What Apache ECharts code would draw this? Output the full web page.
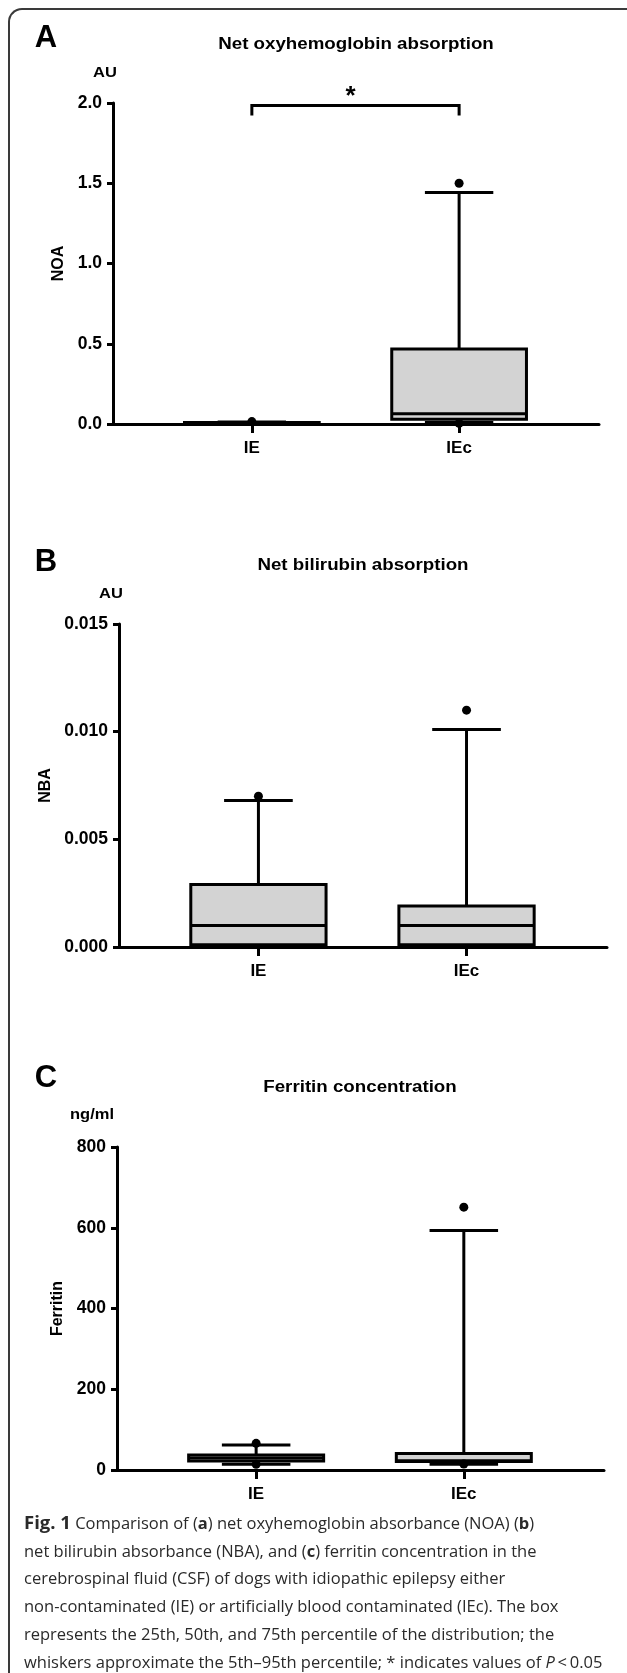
<!DOCTYPE html>
<html>
<head>
<meta charset="utf-8">
<script src="https://cdn.jsdelivr.net/npm/echarts@6/dist/echarts.min.js"></script>
<style>
  html, body { margin: 0; padding: 0; background: #fff; }
  #chart { position: absolute; left: 0; top: 0; width: 627px; height: 1673px; }
  #frame {
    position: absolute; left: 8px; top: 8px; width: 660px; height: 1700px;
    border-top: 2px solid #3a3a3a; border-left: 2px solid #3a3a3a;
    border-top-left-radius: 14px; pointer-events: none;
  }
  #caption {
    position: absolute; left: 24px; top: 1508px; white-space: nowrap;
    font-family: "Open Sans", "Noto Sans", sans-serif; font-weight: 400;
    font-size: 16.5px; line-height: 27.7px; color: #2a2a2a;
  }
  #caption b { font-weight: 700; }
  #caption b.fig { font-size: 18.5px; }
</style>
</head>
<body>
<div id="chart"></div>
<div id="frame"></div>
<div id="caption">
  <b class="fig">Fig. 1</b> Comparison of (<b>a</b>) net oxyhemoglobin absorbance (NOA) (<b>b</b>)<br>
  net bilirubin absorbance (NBA), and (<b>c</b>) ferritin concentration in the<br>
  cerebrospinal fluid (CSF) of dogs with idiopathic epilepsy either<br>
  non-contaminated (IE) or artificially blood contaminated (IEc). The box<br>
  represents the 25th, 50th, and 75th percentile of the distribution; the<br>
  whiskers approximate the 5th&ndash;95th percentile; * indicates values of <i>P</i>&thinsp;&lt;&thinsp;0.05
</div>
<script>
// groups
var categories = ['IE', 'IEc'];

// A - net oxyhemoglobin absorption (AU)
var noaLow    = [0.000, 0.010];
var noaQ1     = [0.002, 0.030];
var noaMedian = [0.006, 0.064];
var noaQ3     = [0.010, 0.468];
var noaHigh   = [0.012, 1.443];
var noaDots   = [[0, 0.015], [1, 1.500], [1, 0.005]];   // [group index, value]
var noaTicks  = [0, 0.5, 1.0, 1.5, 2.0];
var noaSig    = [[0, 1, 1.984, 1.922]];                 // bracket: from group, to group, top, foot

// B - net bilirubin absorption (AU)
var nbaLow    = [0.0000, 0.0000];
var nbaQ1     = [0.0001, 0.0001];
var nbaMedian = [0.0010, 0.0010];
var nbaQ3     = [0.0029, 0.0019];
var nbaHigh   = [0.0068, 0.0101];
var nbaDots   = [[0, 0.0070], [1, 0.0110]];
var nbaTicks  = [0, 0.005, 0.010, 0.015];

// C - ferritin concentration (ng/ml)
var ferLow    = [14, 14];
var ferQ1     = [22, 21];
var ferMedian = [30, 23];
var ferQ3     = [37, 41];
var ferHigh   = [62, 593];
var ferDots   = [[0, 66], [0, 14], [1, 651], [1, 15]];
var ferTicks  = [0, 200, 400, 600, 800];

var FONT = '"Liberation Sans", Arial, Helvetica, sans-serif';

var myChart = echarts.init(document.getElementById('chart'));

function boxRows(low, q1, med, q3, high) {
	var rows = [];
	for (var i = 0; i < categories.length; i++) {
		rows.push([i + 1, low[i], q1[i], med[i], q3[i], high[i]]);
	}
	return rows;
}

function dotRows(dots) {
	return dots.map(function (d) { return [d[0] + 1, d[1]]; });
}

// box, median, whiskers with short caps
function renderBox(params, api) {
	var x = api.value(0);
	var lo = api.coord([x, api.value(1)]);
	var q1 = api.coord([x, api.value(2)]);
	var med = api.coord([x, api.value(3)]);
	var q3 = api.coord([x, api.value(4)]);
	var hi = api.coord([x, api.value(5)]);
	var unit = api.size([1, 0])[0];
	var bw = unit * 0.65, cw = unit * 0.33;
	var cx = q1[0];
	var ls = { stroke: '#000', lineWidth: 3 };
	return {
		type: 'group',
		children: [
			{ type: 'line', shape: { x1: cx, y1: hi[1], x2: cx, y2: q3[1] }, style: ls },
			{ type: 'line', shape: { x1: cx - cw / 2, y1: hi[1], x2: cx + cw / 2, y2: hi[1] }, style: ls },
			{ type: 'line', shape: { x1: cx, y1: lo[1], x2: cx, y2: q1[1] }, style: ls },
			{ type: 'line', shape: { x1: cx - cw / 2, y1: lo[1], x2: cx + cw / 2, y2: lo[1] }, style: ls },
			{ type: 'rect', shape: { x: cx - bw / 2, y: q3[1], width: bw, height: q1[1] - q3[1] },
				style: { fill: '#d3d3d3', stroke: '#000', lineWidth: 3 } },
			{ type: 'line', shape: { x1: cx - bw / 2, y1: med[1], x2: cx + bw / 2, y2: med[1] }, style: ls }
		]
	};
}

function renderBracket(params, api) {
	var a = api.coord([api.value(0) + 1, api.value(2)]);
	var b = api.coord([api.value(1) + 1, api.value(2)]);
	var foot = api.coord([api.value(0) + 1, api.value(3)])[1];
	return {
		type: 'group',
		children: [
			{ type: 'polyline', shape: { points: [[a[0], foot], [a[0], a[1]], [b[0], b[1]], [b[0], foot]] },
				style: { stroke: '#000', lineWidth: 3, fill: null } },
			{ type: 'text', x: (a[0] + b[0]) / 2 - 5, y: a[1] - 9,
				style: { text: '*', font: 'bold 26px ' + FONT, fill: '#000', align: 'center', verticalAlign: 'middle' } }
		]
	};
}

var grids = [
	{ left: 113, top: 103, width: 486, height: 321 },
	{ left: 119, top: 624, width: 488, height: 323 },
	{ left: 117, top: 1147, width: 487, height: 323 }
];

function xAxisFor(i) {
	return {
		type: 'value', gridIndex: i, min: 0.33, max: 2.675,
		axisLine: { show: true, onZero: false, lineStyle: { color: '#000', width: 3 } },
		axisTick: { show: true, length: 9, customValues: [1, 2], lineStyle: { color: '#000', width: 3 } },
		axisLabel: {
			customValues: [1, 2], margin: 16, color: '#000',
			fontFamily: FONT, fontWeight: 'bold', fontSize: 17,
			formatter: function (v) { return categories[Math.round(v) - 1] || ''; }
		},
		splitLine: { show: false }
	};
}

function yAxisFor(i, ticks, name, gap, digits) {
	return {
		type: 'value', gridIndex: i,
		min: ticks[0], max: ticks[ticks.length - 1], interval: ticks[1] - ticks[0],
		name: name, nameLocation: 'middle', nameRotate: 90, nameGap: gap,
		nameTextStyle: { color: '#000', fontFamily: FONT, fontWeight: 'bold', fontSize: 16 },
		axisLine: { show: true, lineStyle: { color: '#000', width: 3 } },
		axisTick: { show: true, length: 6, lineStyle: { color: '#000', width: 3 } },
		axisLabel: {
			margin: 11, color: '#000', fontFamily: FONT, fontWeight: 'bold', fontSize: 17.5,
			formatter: function (v) { return v.toFixed(digits); }
		},
		splitLine: { show: false }
	};
}

function headText(x, y, text, size, sx, align) {
	return {
		type: 'text', x: x, y: y, scaleX: sx || 1,
		style: { text: text, font: 'bold ' + size + 'px ' + FONT, fill: '#000',
			align: align || 'center', verticalAlign: 'middle' }
	};
}

var dotStyle = { color: '#000', opacity: 1 };

var option = {
	animation: false,
	backgroundColor: '#fff',
	grid: grids,
	xAxis: [xAxisFor(0), xAxisFor(1), xAxisFor(2)],
	yAxis: [
		yAxisFor(0, noaTicks, 'NOA', 45, 1),
		yAxisFor(1, nbaTicks, 'NBA', 63, 3),
		yAxisFor(2, ferTicks, 'Ferritin', 50, 0)
	],
	graphic: [
		headText(46, 38, 'A', 31),
		headText(356, 45, 'Net oxyhemoglobin absorption', 16, 1.17),
		headText(105, 73, 'AU', 15, 1.1),
		headText(46, 562, 'B', 31),
		headText(363, 566, 'Net bilirubin absorption', 16, 1.17),
		headText(111, 594, 'AU', 15, 1.1),
		headText(46, 1078, 'C', 31),
		headText(360, 1088, 'Ferritin concentration', 16, 1.17),
		headText(92, 1115, 'ng/ml', 15, 1.1)
	],
	series: [
		{ type: 'custom', xAxisIndex: 0, yAxisIndex: 0, renderItem: renderBox, clip: false,
			encode: { x: 0, y: [1, 2, 3, 4, 5] }, data: boxRows(noaLow, noaQ1, noaMedian, noaQ3, noaHigh) },
		{ type: 'custom', xAxisIndex: 0, yAxisIndex: 0, renderItem: renderBracket, clip: false,
			encode: { x: [0, 1], y: [2, 3] }, data: noaSig },
		{ type: 'scatter', xAxisIndex: 0, yAxisIndex: 0, symbolSize: 9, itemStyle: dotStyle,
			data: dotRows(noaDots), z: 5 },

		{ type: 'custom', xAxisIndex: 1, yAxisIndex: 1, renderItem: renderBox, clip: false,
			encode: { x: 0, y: [1, 2, 3, 4, 5] }, data: boxRows(nbaLow, nbaQ1, nbaMedian, nbaQ3, nbaHigh) },
		{ type: 'scatter', xAxisIndex: 1, yAxisIndex: 1, symbolSize: 9, itemStyle: dotStyle,
			data: dotRows(nbaDots), z: 5 },

		{ type: 'custom', xAxisIndex: 2, yAxisIndex: 2, renderItem: renderBox, clip: false,
			encode: { x: 0, y: [1, 2, 3, 4, 5] }, data: boxRows(ferLow, ferQ1, ferMedian, ferQ3, ferHigh) },
		{ type: 'scatter', xAxisIndex: 2, yAxisIndex: 2, symbolSize: 9, itemStyle: dotStyle,
			data: dotRows(ferDots), z: 5 }
	]
};

myChart.setOption(option);
</script>
</body>
</html>
